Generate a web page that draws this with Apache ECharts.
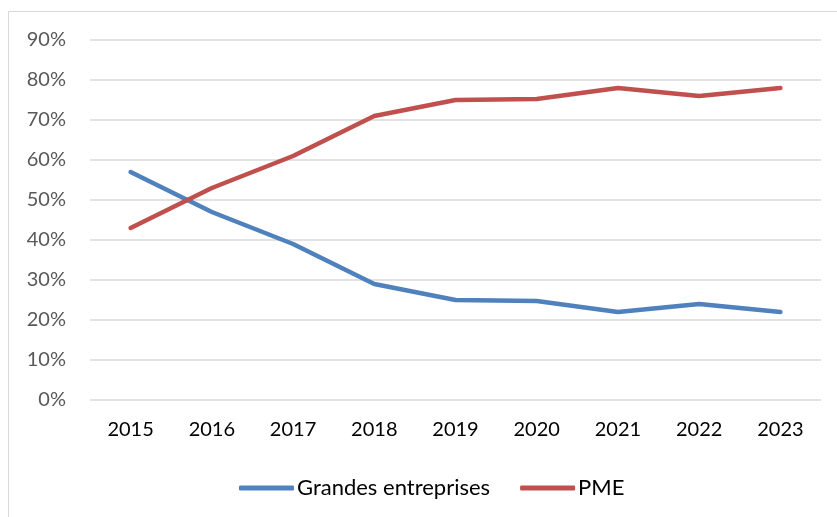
<!DOCTYPE html>
<html>
<head>
<meta charset="utf-8">
<script src="https://cdn.jsdelivr.net/npm/echarts@6/dist/echarts.min.js"></script>
<style>
  html, body { margin: 0; padding: 0; background: #fff; }
  #chart { width: 837px; height: 517px; }
</style>
</head>
<body>
<div id="chart"></div>
<script>
const years = ["2015", "2016", "2017", "2018", "2019", "2020", "2021", "2022", "2023"];
const grandes = [57, 47, 39, 29, 25, 24.75, 22, 24, 22];
const pme = [43, 53, 61, 71, 75, 75.25, 78, 76, 78];

const chart = echarts.init(document.getElementById("chart"));
chart.setOption({
  animation: false,
  textStyle: { fontFamily: "Lato" },
  color: ["#4F81BD", "#C0504D"],
  graphic: [{
    type: "rect",
    shape: { x: 8.5, y: 11.5, width: 900, height: 600 },
    style: { fill: "none", stroke: "#d9d9d9", lineWidth: 1 }
  }],
  grid: { left: 90, right: 16, top: 40, bottom: 117 },
  legend: {
    left: 234,
    top: 472,
    icon: "roundRect",
    itemWidth: 55,
    itemHeight: 5,
    itemGap: 30,
    textStyle: { fontSize: 22, color: "#000", fontFamily: "Lato", padding: [0, 0, 0, -2] },
    data: ["Grandes entreprises", "PME"]
  },
  xAxis: {
    type: "category",
    data: years,
    axisLine: { show: false },
    axisTick: { show: false },
    axisLabel: { fontSize: 20, color: "#000", margin: 20 }
  },
  yAxis: {
    type: "value",
    min: 0,
    max: 90,
    interval: 10,
    axisLine: { show: false },
    axisTick: { show: false },
    axisLabel: { fontSize: 20, color: "#595959", margin: 24, formatter: "{value}%" },
    splitLine: { lineStyle: { color: "#d9d9d9", width: 1.5 } }
  },
  series: [
    {
      name: "Grandes entreprises",
      type: "line",
      data: grandes,
      symbol: "none",
      lineStyle: { width: 4.5, cap: "round", join: "round" }
    },
    {
      name: "PME",
      type: "line",
      data: pme,
      symbol: "none",
      lineStyle: { width: 4.5, cap: "round", join: "round" }
    }
  ]
});
</script>
</body>
</html>
